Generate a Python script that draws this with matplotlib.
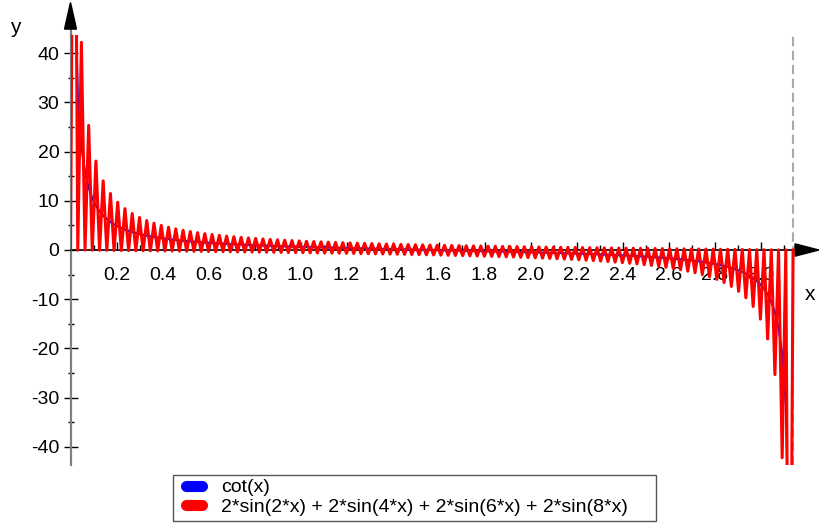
import numpy as np
import matplotlib.pyplot as plt
from matplotlib.lines import Line2D
from matplotlib.patches import Rectangle

plt.rcParams['font.family'] = ['Liberation Sans', 'DejaVu Sans']

# sampling used by the plot (200 equally spaced points on [0, pi])
n_points = 200
n_terms = 99
x = np.linspace(0, np.pi, n_points)
kk = np.arange(1, n_terms + 1)
fourier = (2 * np.sin(2 * np.outer(x, kk))).sum(axis=1)  # 2*sin(2x)+2*sin(4x)+...
xc = x[1:-1]
cot = 1 / np.tan(xc)

x_major = [0.2, 0.4, 0.6, 0.8, 1.0, 1.2, 1.4, 1.6, 1.8, 2.0, 2.2, 2.4, 2.6, 2.8, 3.0]
x_minor = [0.1, 0.3, 0.5, 0.7, 0.9, 1.1, 1.3, 1.5, 1.7, 1.9, 2.1, 2.3, 2.5, 2.7, 2.9, 3.1]
y_major = [-40, -30, -20, -10, 0, 10, 20, 30, 40]
y_minor = [-35, -25, -15, -5, 5, 15, 25, 35]
labels = ['cot(x)', '2*sin(2*x) + 2*sin(4*x) + 2*sin(6*x) + 2*sin(8*x)']

W, H = 819, 524
fig = plt.figure(figsize=(W / 100, H / 100), dpi=100)
ax = fig.add_axes([70.5 / W, 59 / H, 3.15 * 230 / W, 430 / H])
ax.set_xlim(0, 3.15)
ax.set_ylim(-43.7, 43.7)

ax.axvline(np.pi, color='#aaaaaa', lw=1.5, ls=(0, (4.5, 2.2)), zorder=1)
ax.plot(xc, cot, color='blue', lw=1.5, zorder=3)
ax.plot(x, fourier, color='red', lw=2.2, zorder=4)

# axes through the origin
for s in ['top', 'right']:
    ax.spines[s].set_visible(False)
ax.spines['bottom'].set_position(('data', 0))
ax.spines['bottom'].set_linewidth(1.2)
ax.spines['left'].set_position(('data', 0))
ax.spines['left'].set_color('#808080')
ax.spines['left'].set_linewidth(1.6)
ax.plot([0, 0], [43.6, 44.9], color='#808080', lw=1.6, clip_on=False, zorder=2)
ax.fill([-0.026, 0.026, 0], [44.9, 44.9, 50.3], color='black', clip_on=False, zorder=2)
ax.fill([3.15, 3.15, 3.254], [-1.25, 1.25, 0], color='black', clip_on=False, zorder=2)

ax.set_xticks(x_major)
ax.set_xticklabels(['%.1f' % v for v in x_major])
ax.set_xticks(x_minor, minor=True)
ax.set_yticks(y_major)
ax.set_yticklabels(['%d' % v for v in y_major])
ax.set_yticks(y_minor, minor=True)
ax.tick_params(axis='x', which='major', direction='in', length=6, width=1, labelsize=14, pad=12)
ax.tick_params(axis='x', which='minor', direction='in', length=3.5, width=1)
ax.tick_params(axis='y', which='major', direction='inout', length=10, width=1, labelsize=14, pad=3)
ax.tick_params(axis='y', which='minor', direction='inout', length=4.5, width=1)

ax.text(3.215, -9.1, 'x', fontsize=15, ha='center', va='center')
ax.text(-0.241, 45.3, 'y', fontsize=15, ha='center', va='center', clip_on=False)

# legend: frame drawn separately, entries placed inside it
fig.patches.append(Rectangle((173 / W, 1 - 521 / H), 483 / W, 46 / H, transform=fig.transFigure,
                             facecolor='white', edgecolor='#555555', lw=1))
handles = [Line2D([], [], color='blue', lw=8, solid_capstyle='round'),
           Line2D([], [], color='red', lw=8, solid_capstyle='round')]
fig.legend(handles, labels, loc='upper left',
           bbox_to_anchor=(186 / W, 1 - 479 / H),
           fontsize=14, frameon=False, borderpad=0, borderaxespad=0,
           handlelength=0.8, handletextpad=1.0, labelspacing=0.15, handleheight=0.6)

fig.savefig('out.png', dpi=100)
